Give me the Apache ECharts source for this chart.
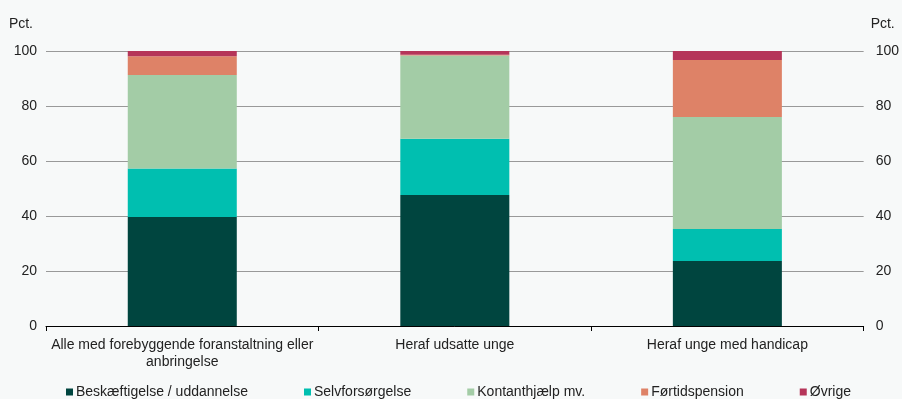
<!DOCTYPE html>
<html>
<head>
<meta charset="utf-8">
<script src="https://cdn.jsdelivr.net/npm/echarts@6/dist/echarts.min.js"></script>
<style>
  html, body { margin: 0; padding: 0; background: #f7f9f9; }
  #chart { width: 902px; height: 399px; }
</style>
</head>
<body>
<div id="chart"></div>
<script>
// kategorier og andele (pct.)
var categories = [
  "Alle med forebyggende foranstaltning eller\nanbringelse",
  "Heraf udsatte unge",
  "Heraf unge med handicap"
];
var beskaeftigelse = [39.6, 47.6, 23.6];
var selvforsorgelse = [17.7, 20.5, 11.7];
var kontanthjaelp = [34.0, 30.3, 40.7];
var fortidspension = [6.8, 0.2, 20.7];
var ovrige = [1.9, 1.4, 3.3];

var seriesNames = ["Beskæftigelse / uddannelse", "Selvforsørgelse", "Kontanthjælp mv.", "Førtidspension", "Øvrige"];
var seriesData = [beskaeftigelse, selvforsorgelse, kontanthjaelp, fortidspension, ovrige];
var colors = ["#00453f", "#00bfb0", "#a3cca6", "#de8267", "#b53559"];

var chartDom = document.getElementById("chart");
var myChart = echarts.init(chartDom);
var font = "Liberation Sans, Arial, sans-serif";

var option = {
  backgroundColor: "#f7f9f9",
  textStyle: { fontFamily: font },
  grid: { left: 46, right: 36, top: 51, bottom: 73 },
  legend: {
    left: 61,
    bottom: -5,
    itemWidth: 7,
    itemHeight: 7,
    itemGap: 56,
    icon: "rect",
    textStyle: { fontSize: 14, color: "#222", fontFamily: font, padding: [0, 0, 0, -2] },
    data: seriesNames
  },
  xAxis: {
    type: "category",
    data: categories,
    axisLine: { show: true, lineStyle: { color: "#000", width: 1 } },
    axisTick: { show: true, length: 5, lineStyle: { color: "#000" } },
    axisLabel: { interval: 0, fontSize: 14, color: "#222", margin: 11, lineHeight: 17, fontFamily: font }
  },
  yAxis: [
    {
      type: "value",
      min: 0,
      max: 100,
      interval: 20,
      name: "Pct.",
      nameGap: 20,
      nameTextStyle: { fontSize: 14, color: "#222", align: "right", padding: [0, 13, 0, 0] },
      axisLine: { show: false },
      axisTick: { show: false },
      axisLabel: { fontSize: 14, color: "#222", margin: 9 },
      splitLine: { lineStyle: { color: "#999", width: 1 } }
    },
    {
      type: "value",
      position: "right",
      min: 0,
      max: 100,
      interval: 20,
      name: "Pct.",
      nameGap: 20,
      nameTextStyle: { fontSize: 14, color: "#222", align: "left", padding: [0, 0, 0, 7] },
      axisLine: { show: false },
      axisTick: { show: false },
      axisLabel: { fontSize: 14, color: "#222", margin: 12 },
      splitLine: { show: false }
    }
  ],
  series: seriesNames.map(function (name, i) {
    return {
      name: name,
      type: "bar",
      stack: "total",
      barWidth: "40%",
      data: seriesData[i],
      itemStyle: { color: colors[i] }
    };
  })
};

option && myChart.setOption(option);
</script>
</body>
</html>
